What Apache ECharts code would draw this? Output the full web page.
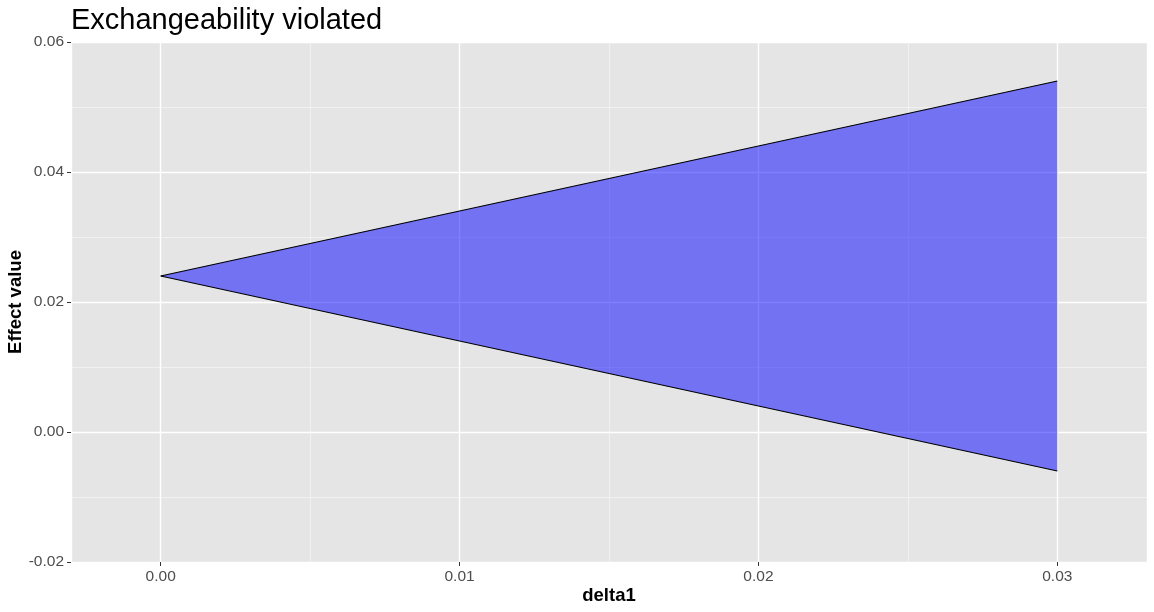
<!DOCTYPE html>
<html>
<head>
<meta charset="utf-8">
<script src="https://cdn.jsdelivr.net/npm/echarts@6/dist/echarts.min.js"></script>
<style>html,body{margin:0;padding:0;background:#fff}#c{width:1154px;height:612px}</style>
</head>
<body>
<div id="c"></div>
<script>
const delta1 = [0, 0.03];
const lowerBound = [0.024, -0.006];
const upperBound = [0.024, 0.054];

const upperData = delta1.map((d, i) => [d, upperBound[i]]);
const lowerData = delta1.map((d, i) => [d, lowerBound[i]]);

const chart = echarts.init(document.getElementById('c'));
const font = 'Liberation Sans, Arial, Helvetica, sans-serif';
const labelFmtX = v => {
  const r = Math.round(v * 100);
  return Math.abs(v * 100 - r) < 1e-6 ? (r / 100).toFixed(2) : '';
};
chart.setOption({
  animation: false,
  backgroundColor: '#ffffff',
  title: {
    text: 'Exchangeability violated',
    left: 66, top: 1,
    textStyle: { fontFamily: font, fontSize: 29, fontWeight: 'normal', color: '#000' }
  },
  grid: { left: 71, right: 7, top: 42, bottom: 50, show: true, backgroundColor: '#E5E5E5', borderWidth: 0, containLabel: false, outerBoundsMode: 'none' },
  xAxis: {
    type: 'value', min: -0.003, max: 0.033, splitNumber: 4,
    name: 'delta1', nameLocation: 'middle', nameGap: 24, nameMoveOverlap: false,
    nameTextStyle: { fontFamily: font, fontSize: 18.5, fontWeight: 'bold', color: '#000' },
    axisLine: { show: false, onZero: false },
    axisTick: { show: true, length: 4, lineStyle: { color: '#333', width: 1 } },
    axisLabel: {
      fontFamily: font, fontSize: 15.5, color: '#4D4D4D', margin: 7,
      showMinLabel: false, showMaxLabel: false,
      formatter: labelFmtX
    },
    splitLine: { show: true, lineStyle: { color: '#fff', width: 1.4 } },
    minorTick: { show: false, splitNumber: 2 },
    minorSplitLine: { show: true, lineStyle: { color: '#F4F4F4', width: 0.8 } }
  },
  yAxis: {
    type: 'value', min: -0.02, max: 0.06, interval: 0.02,
    name: 'Effect value', nameLocation: 'middle', nameGap: 46, nameMoveOverlap: false,
    nameTextStyle: { fontFamily: font, fontSize: 18.5, fontWeight: 'bold', color: '#000' },
    axisLine: { show: false, onZero: false },
    axisTick: { show: true, length: 4, lineStyle: { color: '#333', width: 1 } },
    axisLabel: {
      fontFamily: font, fontSize: 15.5, color: '#4D4D4D', margin: 7,
      formatter: v => v.toFixed(2)
    },
    splitLine: { show: true, lineStyle: { color: '#fff', width: 1.4 } },
    minorTick: { show: false, splitNumber: 2 },
    minorSplitLine: { show: true, lineStyle: { color: '#F4F4F4', width: 0.8 } }
  },
  series: [
    {
      type: 'custom',
      data: [0],
      z: 1,
      renderItem: (params, api) => {
        const pts = [];
        for (let i = 0; i < delta1.length; i++) pts.push(api.coord([delta1[i], upperBound[i]]));
        for (let i = delta1.length - 1; i >= 0; i--) pts.push(api.coord([delta1[i], lowerBound[i]]));
        return { type: 'polygon', shape: { points: pts }, style: { fill: 'rgba(0,0,255,0.5)', stroke: null } };
      }
    },
    {
      type: 'line', data: upperData, symbol: 'none', z: 3,
      lineStyle: { color: '#000', width: 1.2 }
    },
    {
      type: 'line', data: lowerData, symbol: 'none', z: 3,
      lineStyle: { color: '#000', width: 1.2 }
    }
  ]
});
</script>
</body>
</html>
